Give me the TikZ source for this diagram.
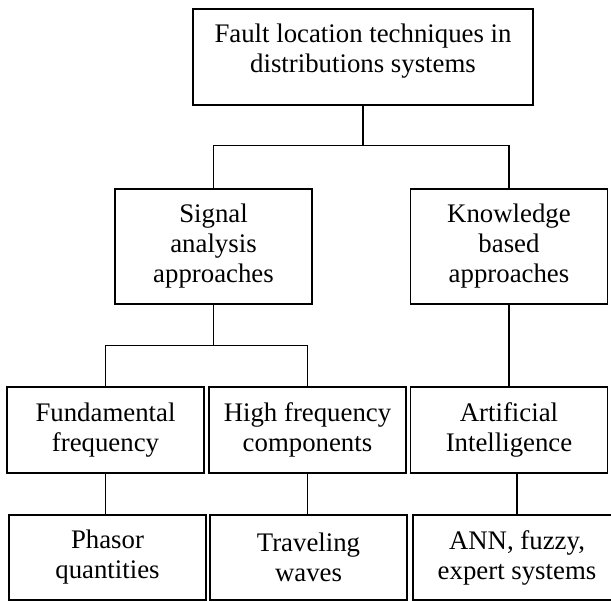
\documentclass[tikz,border=0pt]{standalone}
\usepackage{fontspec}
\setmainfont{Liberation Serif}
\usetikzlibrary{calc}

\begin{document}
\begin{tikzpicture}[
  x=0.5pt, y=-0.5pt,
  font=\fontsize{13.4}{15}\selectfont,
  box/.style={
    draw,
    line width=0.7pt,
    align=center,
    inner sep=0pt,
    minimum width=98.5pt,
    minimum height=#1
  },
  box/.default=43pt,
  link/.style={draw, line width=0.7pt}
]

  \useasboundingbox (0,0) rectangle (611,601);
  \clip (0,0) rectangle (611,601);

  % --- ROOT ---
  \node[box=48pt, minimum width=170pt, text height=31.5pt, text depth=16.5pt] (root) at (363,57) {Fault location techniques in\\distributions systems};

  % --- SECOND LEVEL ---
  \node[box=57.5pt] (signal) at ($(root)+(-149.5,189.5)$) {Signal\\analysis\\approaches};
  \node[box=57.5pt] (knowledge) at ($(root)+(146,189.5)$) {Knowledge\\based\\approaches};

  % --- THIRD LEVEL ---
  \node[box] (fund) at ($(signal)+(-108,183.5)$) {Fundamental\\frequency};
  \node[box] (high) at ($(signal)+(94,183.5)$) {High frequency\\components};
  \node[box] (ai) at ($(knowledge)+(0,183.5)$) {Artificial\\Intelligence};

  % --- LEAVES ---
  \node[box=42.5pt] (phasor) at ($(fund)+(2,127.5)$) {Phasor\\quantities};
  \node[box=42.5pt] (travel) at ($(high)+(1,127.5)$) {Traveling\\waves};
  \node[box=42.5pt, minimum width=104pt] (ann) at ($(ai)+(8,127.5)$) {ANN, fuzzy,\\expert systems};

  % Connectors
  \coordinate (split1) at ($(root.south)+(0,40)$);
  \coordinate (split2) at ($(signal.south)+(0,41)$);

  \draw[link] (root.south) -- (split1);
  \draw[link] (signal.north) |- (split1) -| (knowledge.north);
  \draw[link] (signal.south) -- (split2);
  \draw[link] (fund.north) |- (split2) -| (high.north);
  \draw[link] (knowledge.south) -- (ai.north);
  \draw[link] (fund.south) -- (fund.south |- phasor.north);
  \draw[link] (high.south) -- (high.south |- travel.north);
  \draw[link] (ann.north) -- (ann.north |- ai.south);

\end{tikzpicture}
\end{document}
